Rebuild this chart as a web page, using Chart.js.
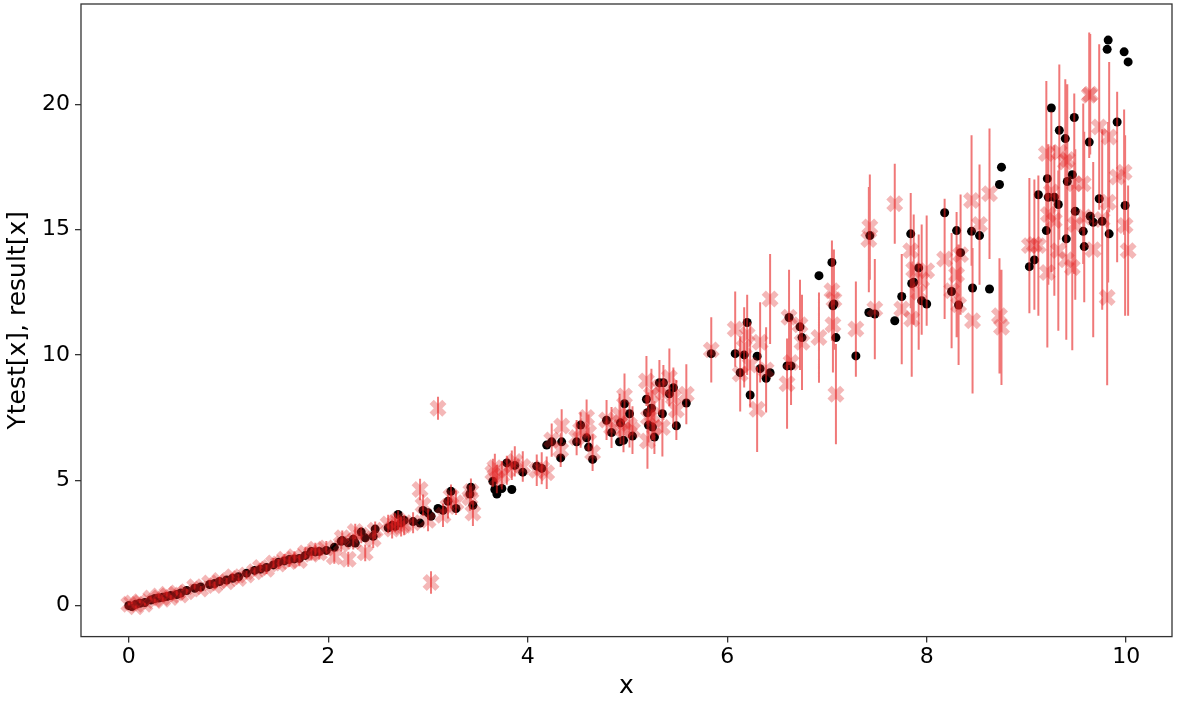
<!DOCTYPE html>
<html>
<head>
<meta charset="utf-8">
<script src="https://cdn.jsdelivr.net/npm/chart.js@4/dist/chart.umd.min.js"></script>
<style>
  html, body { margin: 0; padding: 0; background: #fff; }
  #wrap { width: 1182px; height: 701px; }
</style>
</head>
<body>
<div id="wrap"><canvas id="chart" width="1182" height="701"></canvas></div>
<script>
// sample positions
const xs = [
  0.00, 0.03, 0.07, 0.11, 0.16, 0.22, 0.26, 0.30, 0.34, 0.38, 0.42, 0.48, 0.52, 0.58, 0.66, 0.72,
  0.81, 0.86, 0.91, 0.98, 1.04, 1.10, 1.18, 1.26, 1.32, 1.38, 1.45, 1.50, 1.56, 1.61, 1.66, 1.71,
  1.77, 1.83, 1.87, 1.91, 1.98, 2.06, 2.13, 2.14, 2.20, 2.25, 2.27, 2.33, 2.37,
  2.45, 2.47, 2.60, 2.64, 2.67, 2.70, 2.73, 2.76, 2.85, 2.92, 2.95, 3.00, 3.03, 3.10, 3.15, 3.20,
  3.23, 3.28, 3.42, 3.43, 3.45, 3.65, 3.67, 3.69, 3.74, 3.79, 3.84, 3.87, 3.95, 4.09, 4.14, 4.19,
  4.24, 4.33, 4.34, 4.49, 4.53, 4.59, 4.61, 4.65,
  4.79, 4.84, 4.92, 4.93, 4.96, 4.97, 5.02, 5.05, 5.19, 5.20, 5.21, 5.24, 5.25, 5.27, 5.32, 5.36,
  5.35, 5.42, 5.46, 5.49, 5.59, 5.84, 6.08, 6.13, 6.17, 6.20, 6.23, 6.30, 6.33, 6.39, 6.43, 6.60,
  6.62, 6.64, 6.73, 6.75, 6.92, 7.05, 7.06, 7.07, 7.09,
  7.29, 7.42, 7.43, 7.48, 7.68, 7.75, 7.84, 7.85, 7.87, 7.92, 7.95, 8.00, 8.18, 8.25, 8.30, 8.32,
  8.34, 8.45, 8.46, 8.53, 8.63, 8.73, 8.75,
  9.03, 9.08, 9.12, 9.20, 9.21, 9.22, 9.25, 9.28, 9.32, 9.33, 9.39, 9.40, 9.41, 9.46, 9.48, 9.49,
  9.57, 9.58, 9.63, 9.64, 9.67, 9.73, 9.76, 9.82, 9.81, 9.83, 9.91, 9.98, 10.02, 9.99
];

// true values (black dots)
const yTest = [
  0.00, -0.04, 0.05, 0.09, 0.12, 0.22, 0.28, 0.30, 0.33, 0.36, 0.40, 0.44, 0.50, 0.60, 0.69, 0.74,
  0.84, 0.88, 0.96, 1.02, 1.09, 1.15, 1.29, 1.40, 1.45, 1.52, 1.62, 1.73, 1.78, 1.84, 1.86, 1.88,
  2.00, 2.16, 2.14, 2.16, 2.20, 2.32, 2.56, 2.59, 2.50, 2.64, 2.49, 2.93, 2.70,
  2.76, 3.05, 3.10, 3.20, 3.16, 3.63, 3.30, 3.40, 3.35, 3.29, 3.79, 3.70, 3.56, 3.87, 3.80, 4.16,
  4.56, 3.87, 4.45, 4.72, 4.00, 4.96, 4.63, 4.45, 4.67, 5.69, 4.63, 5.59, 5.32, 5.56, 5.47, 6.40,
  6.53, 5.89, 6.53, 6.53, 7.20, 6.69, 6.32, 5.83,
  7.39, 6.90, 6.53, 7.29, 6.59, 8.05, 7.65, 6.76, 8.23, 7.69, 7.20, 7.87, 7.12, 6.72, 8.89, 8.89,
  7.65, 8.45, 8.69, 7.17, 8.08, 10.05, 10.05, 9.29, 10.00, 11.29, 8.40, 9.95, 9.45, 9.07, 9.29, 9.56,
  11.49, 9.56, 11.12, 10.69, 13.16, 13.69, 11.96, 12.03, 10.69,
  9.96, 11.69, 14.76, 11.63, 11.36, 12.33, 14.83, 12.85, 12.90, 13.47, 12.16, 12.03, 15.67, 12.53, 14.96, 11.99,
  14.08, 14.93, 12.67, 14.76, 12.63, 16.80, 17.49,
  13.52, 13.79, 16.39, 14.96, 17.03, 16.29, 19.85, 16.29, 16.00, 18.96, 18.63, 14.63, 16.92, 17.19, 19.47, 15.73,
  14.93, 14.32, 18.49, 15.53, 15.29, 16.23, 15.33, 22.56, 22.19, 14.83, 19.29, 22.09, 21.69, 15.96
];

// predicted values (red crosses)
const result = [
  0.05, 0.10, -0.05, 0.15, 0.05, 0.30, 0.20, 0.38, 0.25, 0.45, 0.32, 0.50, 0.42, 0.55, 0.75, 0.66,
  0.90, 0.80, 1.00, 0.95, 1.15, 1.08, 1.22, 1.35, 1.52, 1.45, 1.70, 1.66, 1.85, 1.76, 1.95, 1.80,
  2.10, 2.05, 2.25, 2.10, 2.30, 1.95, 2.45, 2.70, 1.85, 2.55, 2.95, 2.80, 2.10,
  2.65, 3.00, 3.25, 3.05, 3.30, 3.40, 3.15, 3.20, 3.30, 4.63, 4.00, 3.40, 0.92, 7.87, 3.60, 3.95,
  4.35, 4.10, 4.30, 4.55, 3.69, 5.30, 5.50, 5.05, 5.20, 5.40, 5.60, 5.75, 5.55, 5.40, 5.48, 5.30,
  6.60, 6.20, 7.16, 6.70, 7.00, 7.50, 6.90, 6.10,
  7.40, 7.10, 7.60, 7.29, 7.00, 8.36, 7.20, 7.00, 8.96, 6.56, 7.50, 8.40, 7.60, 7.10, 8.70, 8.50,
  7.10, 9.10, 8.30, 7.80, 8.43, 10.20, 11.03, 9.24, 10.30, 10.80, 9.60, 7.83, 10.50, 9.40, 12.23, 8.85,
  11.50, 9.70, 11.20, 10.50, 10.69, 12.56, 11.20, 12.20, 8.43,
  11.03, 14.60, 15.10, 11.83, 16.03, 11.83, 14.16, 11.43, 13.40, 12.50, 13.00, 13.36, 13.83, 12.56, 13.20, 12.00,
  14.00, 16.16, 11.36, 15.20, 16.43, 11.56, 11.10,
  14.36, 14.40, 14.36, 18.03, 13.29, 15.60, 16.50, 15.36, 14.16, 18.09, 17.70, 13.80, 17.80, 13.49, 16.83, 15.20,
  16.83, 15.50, 20.36, 20.40, 14.20, 19.09, 15.40, 16.09, 12.29, 18.69, 17.10, 17.29, 14.16, 15.16
];

// standard deviation of predictions (error bars)
const resultErr = [
  0.05, 0.05, 0.05, 0.06, 0.06, 0.07, 0.07, 0.08, 0.08, 0.09, 0.09, 0.10, 0.10, 0.11, 0.12, 0.12,
  0.13, 0.14, 0.14, 0.15, 0.15, 0.16, 0.17, 0.18, 0.18, 0.19, 0.20, 0.20, 0.21, 0.22, 0.22, 0.23,
  0.24, 0.25, 0.25, 0.26, 0.27, 0.28, 0.29, 0.29, 0.30, 0.31, 0.31, 0.32, 0.33,
  0.35, 0.35, 0.37, 0.38, 0.38, 0.39, 0.40, 0.40, 0.42, 0.43, 0.43, 0.44, 0.45, 0.46, 0.47, 0.48,
  0.48, 0.49, 0.52, 0.52, 0.52, 0.56, 0.56, 0.57, 0.57, 0.58, 0.59, 0.60, 0.61, 0.63, 0.64, 0.65,
  0.66, 0.67, 0.67, 0.70, 0.71, 0.72, 0.72, 0.73,
  0.80, 0.82, 0.85, 0.85, 0.88, 0.90, 0.90, 0.95, 1.00, 1.10, 1.00, 1.05, 1.00, 1.05, 1.10, 1.10,
  1.15, 1.15, 1.20, 1.20, 1.20, 1.30, 1.50, 1.50, 1.60, 1.60, 1.70, 1.70, 1.60, 1.70, 1.80, 1.80,
  1.90, 1.70, 1.80, 1.90, 1.80, 2.00, 1.90, 2.00, 2.00,
  1.90, 2.10, 2.10, 2.00, 1.60, 2.20, 2.30, 2.30, 2.20, 2.30, 2.20, 2.20, 2.40, 2.30, 2.50, 2.40,
  2.40, 2.60, 2.90, 2.40, 2.60, 2.30, 2.30,
  2.70, 2.60, 2.80, 2.90, 3.00, 2.80, 3.20, 3.00, 3.20, 3.50, 3.30, 3.20, 3.00, 3.30, 3.60, 3.00,
  3.20, 3.40, 2.50, 2.40, 3.50, 3.30, 3.60, 3.20, 3.50, 3.00, 3.40, 2.50, 2.60, 3.60
];

const xTicks = [0, 2, 4, 6, 8, 10];
const yTicks = [0, 5, 10, 15, 20];

// build datasets
const dotData = xs.map((x, i) => ({ x: x, y: yTest[i] }));
const crossData = xs.map((x, i) => ({ x: x, y: result[i] }));
const barData = [];
xs.forEach((x, i) => {
  barData.push({ x: x, y: result[i] - resultErr[i] });
  barData.push({ x: x, y: result[i] + resultErr[i] });
  barData.push({ x: x, y: null });
});

// draws the full box around the plot area, like matplotlib spines
const framePlugin = {
  id: 'frame',
  afterDatasetsDraw(chart) {
    const a = chart.chartArea;
    const ctx = chart.ctx;
    ctx.save();
    ctx.strokeStyle = '#333';
    ctx.lineWidth = 1.3;
    ctx.strokeRect(a.left, a.top, a.right - a.left, a.bottom - a.top);
    ctx.restore();
  }
};

Chart.defaults.font.family = 'DejaVu Sans';

new Chart(document.getElementById('chart'), {
  type: 'scatter',
  data: {
    datasets: [
      {
        label: 'err',
        data: barData,
        showLine: true,
        spanGaps: false,
        pointRadius: 0,
        borderColor: 'rgba(230, 30, 30, 0.6)',
        borderWidth: 2,
        order: 0
      },
      {
        label: 'result',
        data: crossData,
        pointStyle: 'crossRot',
        pointRadius: 9,
        borderWidth: 6,
        borderColor: 'rgba(220, 30, 30, 0.32)',
        backgroundColor: 'rgba(220, 30, 30, 0.32)',
        order: 1
      },
      {
        label: 'Ytest',
        data: dotData,
        pointRadius: 4.5,
        borderWidth: 0,
        backgroundColor: '#000',
        order: 2
      }
    ]
  },
  options: {
    responsive: false,
    animation: false,
    events: [],
    layout: { autoPadding: false, padding: { top: 4, right: 10, left: 3, bottom: 0 } },
    plugins: {
      legend: { display: false },
      tooltip: { enabled: false }
    },
    scales: {
      x: {
        type: 'linear',
        min: -0.48,
        max: 10.46,
        afterBuildTicks(axis) { axis.ticks = xTicks.map(v => ({ value: v })); },
        afterFit(axis) { axis.paddingLeft = 0; axis.paddingRight = 0; },
        border: { display: false },
        grid: { drawOnChartArea: false, drawTicks: true, tickLength: 6, color: '#333', lineWidth: 1.3 },
        ticks: { color: '#000', font: { size: 22 }, padding: 1, maxRotation: 0 },
        title: { display: true, text: 'x', color: '#000', font: { size: 25 }, padding: { top: 0, bottom: 0 } }
      },
      y: {
        type: 'linear',
        min: -1.24,
        max: 24.0,
        afterBuildTicks(axis) { axis.ticks = yTicks.map(v => ({ value: v })); },
        afterFit(axis) { axis.paddingTop = 0; axis.paddingBottom = 0; },
        border: { display: false },
        grid: { drawOnChartArea: false, drawTicks: true, tickLength: 6, color: '#333', lineWidth: 1.3 },
        ticks: { color: '#000', font: { size: 22 }, padding: 5 },
        title: { display: true, text: 'Ytest[x], result[x]', color: '#000', font: { size: 25 }, padding: { top: 0, bottom: 4 } }
      }
    }
  },
  plugins: [framePlugin]
});
</script>
</body>
</html>
